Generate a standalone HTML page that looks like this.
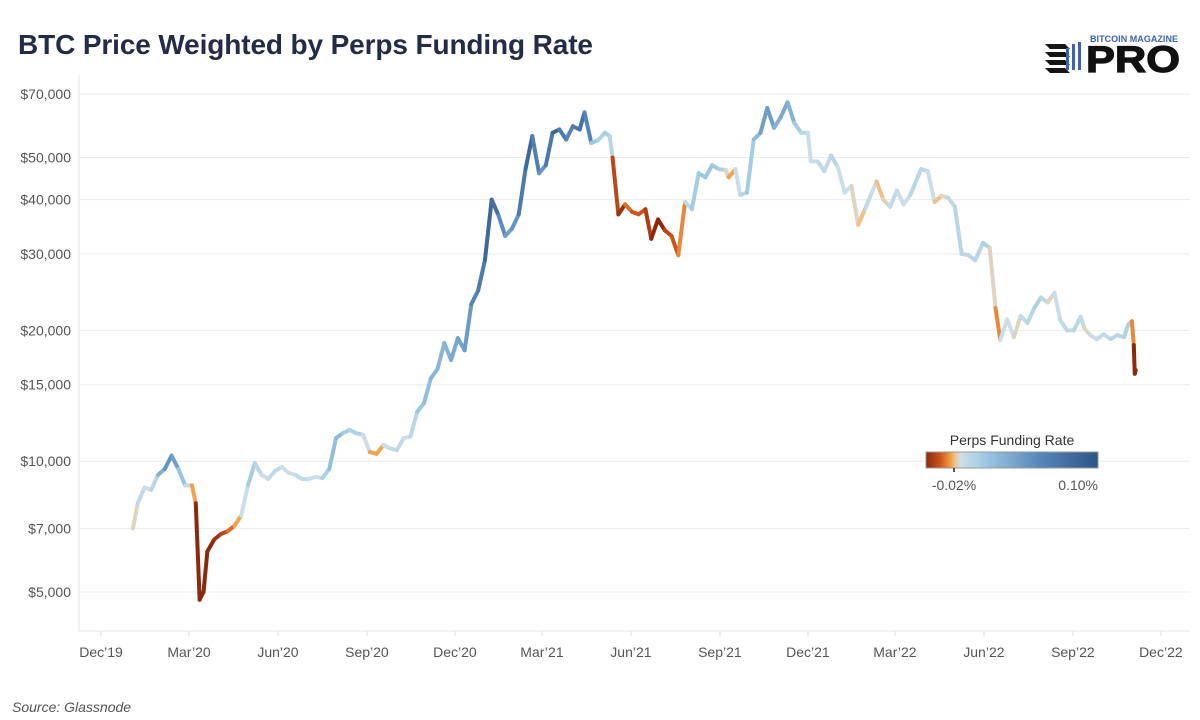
<!DOCTYPE html>
<html><head><meta charset="utf-8"><style>
body{margin:0;background:#fff;font-family:"Liberation Sans",sans-serif;}
#wrap{position:relative;width:1200px;height:720px;overflow:hidden;}
</style></head><body>
<div id="wrap">
<svg id="svg" width="1200" height="720">
<defs>
<linearGradient id="lg" x1="0" x2="1" y1="0" y2="0">
<stop offset="0" stop-color="#8a2a0a"/><stop offset="0.08" stop-color="#c9501a"/><stop offset="0.14" stop-color="#f39a45"/><stop offset="0.17" stop-color="#f2c48c"/><stop offset="0.2" stop-color="#cfe0e8"/><stop offset="0.33" stop-color="#a0cbe4"/><stop offset="0.65" stop-color="#5888bb"/><stop offset="1" stop-color="#2b5584"/>
</linearGradient>
</defs>
<text x="18" y="54" font-size="28" font-weight="bold" fill="#232b45" textLength="575">BTC Price Weighted by Perps Funding Rate</text>
<g>
<g fill="#151515"><polygon points="1045,44 1065,44 1070,49 1050,49"/><polygon points="1045,52 1065,52 1070,57 1050,57"/><polygon points="1045,60 1065,60 1070,65 1050,65"/><polygon points="1045,68 1065,68 1070,73 1050,73"/></g>
<g fill="#3a64b0"><rect x="1066" y="48" width="3" height="22"/><rect x="1072" y="44" width="3" height="26"/><rect x="1078" y="42" width="3" height="28"/></g>
<text x="1090" y="42" font-size="9" font-weight="bold" fill="#3a64b0" textLength="88">BITCOIN MAGAZINE</text>
<text x="1086" y="72" font-size="37" font-weight="bold" fill="#111" textLength="94" lengthAdjust="spacingAndGlyphs" stroke="#111" stroke-width="1.2">PRO</text>
</g>
<g id="grid"></g>
<g id="axes"></g>
<g id="line"></g>
<g>
<text x="1012" y="445" font-size="14" fill="#333" text-anchor="middle">Perps Funding Rate</text>
<rect x="926" y="452" width="172" height="16" fill="url(#lg)" stroke="#999" stroke-width="1"/>
<line x1="954" y1="468" x2="954" y2="472" stroke="#222" stroke-width="1.5"/>
<text x="954" y="490" font-size="14" fill="#555" text-anchor="middle">-0.02%</text>
<text x="1098" y="490" font-size="14" fill="#555" text-anchor="end">0.10%</text>
</g>
<text x="12" y="712" font-size="14" font-style="italic" fill="#555">Source: Glassnode</text>
</svg>
</div>
<script>
const yTicks=[5000,7000,10000,15000,20000,30000,40000,50000,70000];
const yTickLabels=["$5,000","$7,000","$10,000","$15,000","$20,000","$30,000","$40,000","$50,000","$70,000"];
const xTicks=["2019-12-01","2020-03-01","2020-06-01","2020-09-01","2020-12-01","2021-03-01","2021-06-01","2021-09-01","2021-12-01","2022-03-01","2022-06-01","2022-09-01","2022-12-01"];
const xTickLabels=["Dec\u201919","Mar\u201920","Jun\u201920","Sep\u201920","Dec\u201920","Mar\u201921","Jun\u201921","Sep\u201921","Dec\u201921","Mar\u201922","Jun\u201922","Sep\u201922","Dec\u201922"];
const dates=["2020-01-03","2020-01-08","2020-01-15","2020-01-22","2020-01-29","2020-02-05","2020-02-12","2020-02-19","2020-02-26","2020-03-04","2020-03-08","2020-03-12","2020-03-16","2020-03-20","2020-03-27","2020-04-03","2020-04-10","2020-04-17","2020-04-24","2020-05-01","2020-05-08","2020-05-15","2020-05-22","2020-05-29","2020-06-05","2020-06-12","2020-06-19","2020-06-26","2020-07-03","2020-07-10","2020-07-17","2020-07-24","2020-07-31","2020-08-07","2020-08-14","2020-08-21","2020-08-28","2020-09-04","2020-09-11","2020-09-18","2020-09-25","2020-10-02","2020-10-09","2020-10-16","2020-10-23","2020-10-30","2020-11-06","2020-11-13","2020-11-20","2020-11-27","2020-12-04","2020-12-11","2020-12-18","2020-12-25","2021-01-01","2021-01-08","2021-01-15","2021-01-22","2021-01-29","2021-02-05","2021-02-12","2021-02-19","2021-02-26","2021-03-05","2021-03-12","2021-03-19","2021-03-26","2021-04-02","2021-04-09","2021-04-14","2021-04-21","2021-04-28","2021-05-05","2021-05-10","2021-05-13","2021-05-19","2021-05-26","2021-06-02","2021-06-09","2021-06-16","2021-06-22","2021-06-29","2021-07-06","2021-07-13","2021-07-20","2021-07-27","2021-08-03","2021-08-10","2021-08-17","2021-08-24","2021-08-31","2021-09-07","2021-09-10","2021-09-17","2021-09-22","2021-09-29","2021-10-06","2021-10-13","2021-10-20","2021-10-27","2021-11-03","2021-11-10","2021-11-17","2021-11-24","2021-12-01","2021-12-04","2021-12-11","2021-12-18","2021-12-25","2022-01-01","2022-01-08","2022-01-15","2022-01-22","2022-01-29","2022-02-05","2022-02-10","2022-02-17","2022-02-24","2022-03-03","2022-03-10","2022-03-17","2022-03-28","2022-04-04","2022-04-11","2022-04-18","2022-04-25","2022-05-02","2022-05-09","2022-05-16","2022-05-23","2022-05-31","2022-06-07","2022-06-13","2022-06-18","2022-06-25","2022-07-02","2022-07-09","2022-07-16","2022-07-23","2022-07-30","2022-08-06","2022-08-13","2022-08-19","2022-08-26","2022-09-02","2022-09-09","2022-09-13","2022-09-19","2022-09-26","2022-10-03","2022-10-10","2022-10-17","2022-10-24","2022-10-28","2022-11-01","2022-11-03","2022-11-04","2022-11-05"];
const prices=[7000,8000,8700,8600,9300,9600,10300,9600,8800,8800,8000,4800,5000,6200,6600,6800,6900,7100,7500,8800,9900,9300,9100,9500,9700,9400,9300,9100,9100,9200,9150,9600,11300,11600,11800,11600,11500,10500,10400,10900,10700,10600,11300,11400,13000,13600,15500,16300,18700,17100,19200,18000,23000,24700,29000,40000,36800,33000,34300,37000,47000,56000,46000,48000,57000,58000,55000,59000,58000,63500,54000,54800,57000,56000,50000,37000,39000,37500,37000,38000,32500,36000,34000,33000,29800,39500,38000,46000,45000,48000,47000,46800,45000,47000,41000,41500,55000,57000,65000,58500,62000,67000,60000,57000,57000,49000,49000,46500,50500,47500,41500,43000,35000,38000,41500,44000,40000,38500,42000,39000,41000,47000,46500,39500,40800,40400,38500,30000,29800,29000,31800,31000,22500,19000,21200,19300,21600,20800,22500,23800,23200,24400,21100,20000,20000,21500,20200,19500,19100,19600,19100,19500,19300,20600,21000,18500,15900,16200];
const funding=[0.0,0.005,0.01,0.0,0.02,0.04,0.05,0.03,0.01,0.005,-0.01,-0.03,-0.03,-0.02,-0.02,-0.015,-0.01,-0.005,0.0,0.01,0.02,0.0,0.01,0.005,0.01,0.0,0.01,0.005,0.01,0.0,0.01,0.015,0.03,0.02,0.01,0.015,0.01,0.0,-0.005,0.0,0.01,0.005,0.01,0.0,0.02,0.015,0.03,0.025,0.03,0.03,0.04,0.035,0.05,0.06,0.07,0.09,0.06,0.04,0.04,0.05,0.08,0.08,0.04,0.05,0.08,0.09,0.04,0.07,0.06,0.09,0.02,0.015,0.01,0.02,0.0,-0.025,-0.01,-0.005,-0.015,-0.005,-0.025,-0.02,-0.02,-0.005,-0.015,0.005,0.01,0.02,0.015,0.02,0.015,0.01,-0.005,0.0,0.01,0.01,0.02,0.03,0.05,0.03,0.03,0.04,0.02,0.01,0.01,0.0,0.01,0.005,0.01,0.01,0.0,0.01,-0.005,0.005,0.01,0.0,0.0,0.005,0.01,0.0,0.01,0.01,0.01,0.0,0.0,0.005,0.01,0.01,0.01,0.01,0.01,0.015,-0.01,0.0,0.01,0.0,0.005,0.01,0.01,0.015,0.005,0.0,0.01,0.005,0.01,0.01,0.005,0.0,0.01,0.005,0.01,0.01,0.01,0.015,0.01,-0.02,-0.04,-0.035];

const NS="http://www.w3.org/2000/svg";
const t0=Date.parse("2019-12-01"), PXD=88/91;
function xs(d){return 101+(Date.parse(d)-t0)/86400000*PXD;}
function ys(v){return 592-188.7*Math.log(v/5000);}
const stops=[[0,[138,42,10]],[0.08,[201,80,26]],[0.14,[243,154,69]],[0.17,[242,196,140]],[0.2,[207,224,232]],[0.3,[160,203,228]],[0.6,[88,136,187]],[1,[43,85,132]]];
function col(f){let t=(f+0.02)/0.12;t=Math.max(0,Math.min(1,t));
 for(let i=1;i<stops.length;i++){if(t<=stops[i][0]){const a=stops[i-1],b=stops[i];const u=(t-a[0])/(b[0]-a[0]);
 const c=a[1].map((v,k)=>Math.round(v+(b[1][k]-v)*u));return `rgb(${c})`;}}return "rgb(43,85,132)";}
function mk(tag,attrs,parent){const e=document.createElementNS(NS,tag);for(const k in attrs)e.setAttribute(k,attrs[k]);parent.appendChild(e);return e;}
const grid=document.getElementById('grid'),axes=document.getElementById('axes'),line=document.getElementById('line');
yTicks.forEach((v,i)=>{
 const g=mk('line',{x1:79,x2:1190,y1:ys(v),y2:ys(v),stroke:'#ececec','stroke-width':1},grid);
 
 
 const t=mk('text',{x:71,y:ys(v)+5,'font-size':14,fill:'#555','text-anchor':'end'},axes);
 t.textContent=yTickLabels[i];
 
 
});
mk('line',{x1:79,x2:79,y1:75,y2:631,stroke:'#e6e6e6'},axes);
mk('line',{x1:79,x2:1190,y1:631,y2:631,stroke:'#e6e6e6'},axes);
xTicks.forEach((d,i)=>{
 const x=xs(d);
 mk('line',{x1:x,x2:x,y1:631,y2:636,stroke:'#ddd'},axes);
 const t=mk('text',{x:x,y:657,'font-size':14,fill:'#555','text-anchor':'middle'},axes);
 t.textContent=xTickLabels[i];
 
 
});
for(let i=1;i<dates.length;i++){
 const s=mk('line',{x1:xs(dates[i-1]),y1:ys(prices[i-1]),x2:xs(dates[i]),y2:ys(prices[i]),stroke:col((funding[i-1]+funding[i])/2),'stroke-width':4,'stroke-linecap':'round'},line);
 
 
}
</script>
</body></html>
